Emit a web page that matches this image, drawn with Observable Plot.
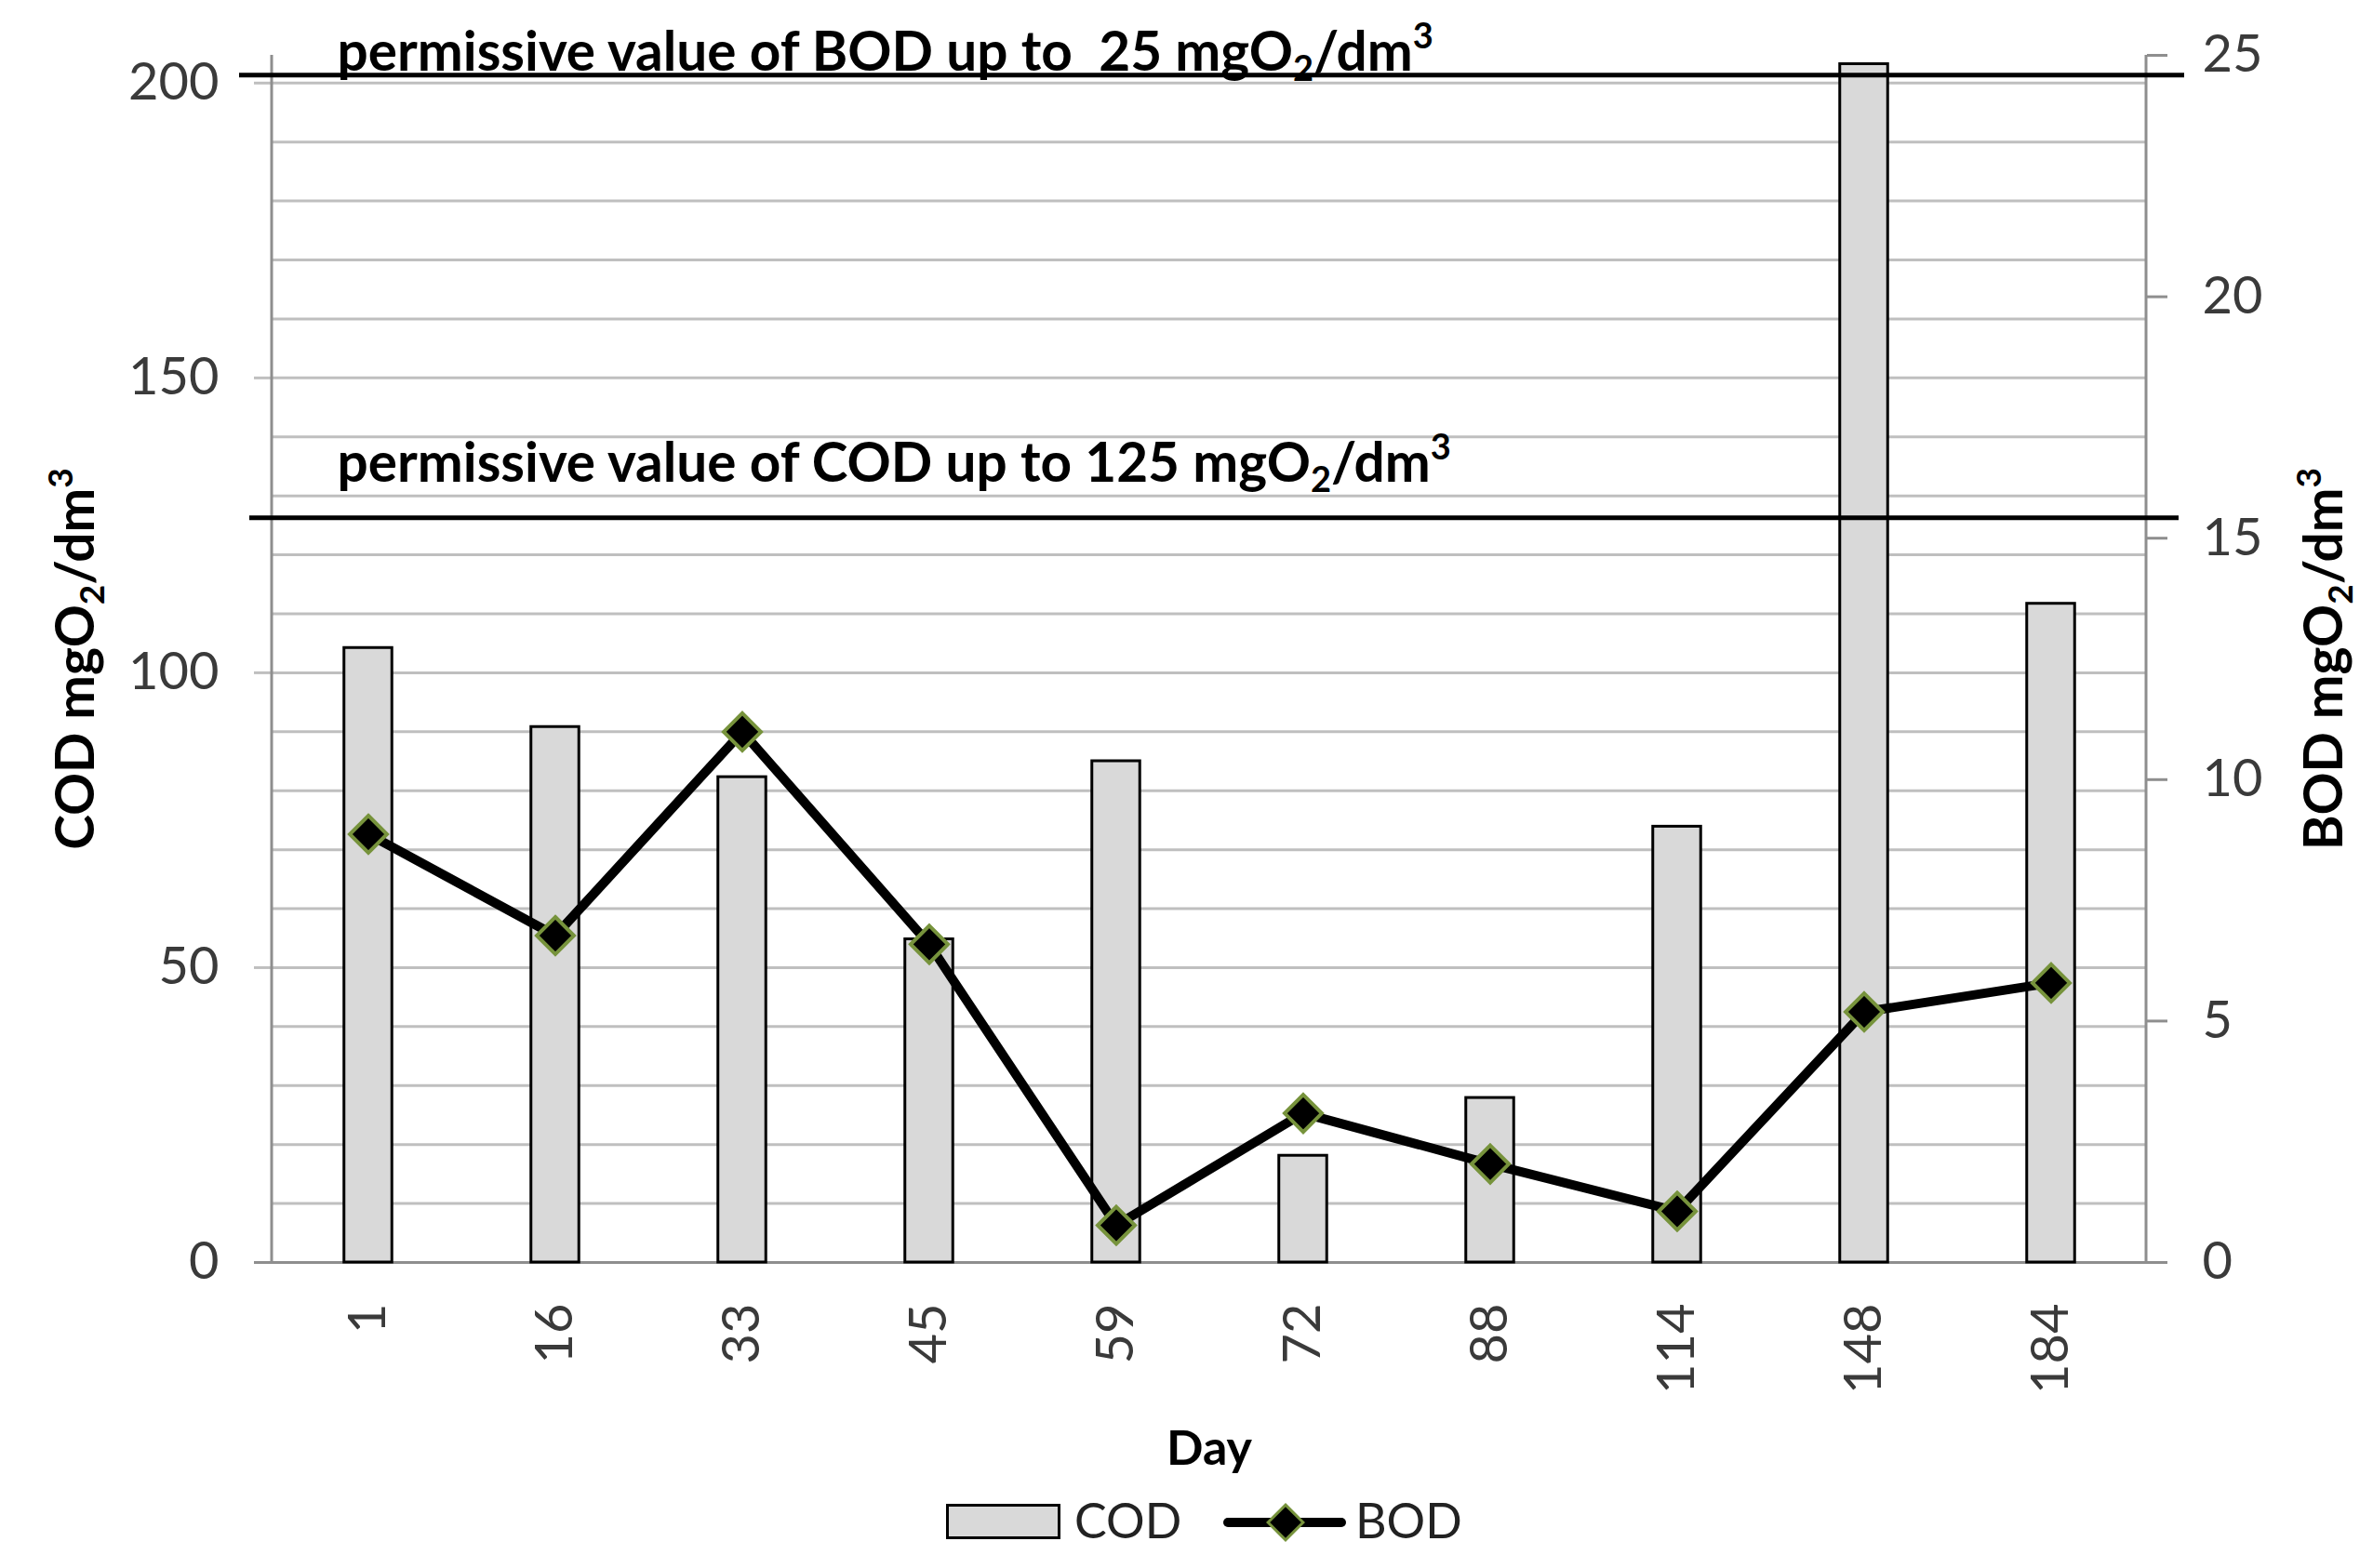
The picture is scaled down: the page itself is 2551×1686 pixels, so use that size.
<!DOCTYPE html>
<html>
<head>
<meta charset="utf-8">
<script src="https://cdn.jsdelivr.net/npm/d3@7"></script>
<script src="https://cdn.jsdelivr.net/npm/@observablehq/plot@0.6"></script>
<style>
  html, body { margin: 0; padding: 0; background: #ffffff; }
  #chart { width: 2551px; }
  #chart svg { display: block; }
  svg text { font-family: Lato, "Open Sans", sans-serif; }
</style>
</head>
<body>
<div id="chart"></div>
<script>
// ---- data ----
const days = ["1", "16", "33", "45", "59", "72", "88", "114", "148", "184"];
const cod = [104.2, 90.8, 82.3, 54.8, 85.0, 18.1, 27.9, 73.9, 203.2, 111.7];
const bod = [8.87, 6.77, 10.99, 6.59, 0.77, 3.09, 2.04, 1.06, 5.19, 5.79];

const codTicks = [0, 50, 100, 150, 200];
const codGrid = [10, 20, 30, 40, 50, 60, 70, 80, 90, 100, 110, 120, 130, 140, 150, 160, 170, 180, 190, 200];
const bodTicks = [0, 5, 10, 15, 20, 25];

const codMax = 204.7;   // left axis top
const bodMax = 25;      // right axis top
const codLimitLine = 126.3; // drawn position (COD scale)
const bodLimitLine = 24.59; // drawn position (BOD scale)
const codLimitLabel = "permissive value of COD up to 125 mgO2/dm3";
const bodLimitLabel = "permissive value of BOD up to  25 mgO2/dm3";
const seriesNames = ["COD", "BOD"];

const k = codMax / bodMax; // BOD -> COD scale factor
const data = days.map((d, i) => ({day: d, cod: cod[i], bod: bod[i], bodY: bod[i] * k}));

const axisGray = "#8e8e8e";
const gridGray = "#bfbfbf";
const textGray = "#3a3a3a";

const axisLines = (index, scales, values, dimensions) => {
  const {width, height, marginLeft, marginRight, marginTop, marginBottom} = dimensions;
  const g = d3.create("svg:g").attr("stroke", axisGray).attr("stroke-width", 3);
  g.append("line").attr("x1", marginLeft).attr("x2", marginLeft).attr("y1", marginTop).attr("y2", height - marginBottom);
  g.append("line").attr("x1", width - marginRight).attr("x2", width - marginRight).attr("y1", marginTop).attr("y2", height - marginBottom);
  return g.node();
};

const chart = Plot.plot({
  width: 2551,
  height: 1610,
  marginLeft: 292,
  marginRight: 244,
  marginTop: 59,
  marginBottom: 253,
  style: {background: "white", fontFamily: "Lato, 'Open Sans', sans-serif", overflow: "visible"},
  x: {type: "band", domain: days, padding: 0, label: null},
  y: {domain: [0, codMax], label: null},
  marks: [
    Plot.ruleY(codGrid, {stroke: gridGray, strokeWidth: 3}),
    Plot.axisY({anchor: "left", ticks: codTicks, tickSize: 19, tickPadding: 38, fontSize: 56, stroke: gridGray, strokeWidth: 3, fill: textGray, label: null}),
    Plot.axisY({anchor: "right", ticks: bodTicks.map(v => v * k), tickFormat: d => String(Math.round(d / k)), tickSize: 22, tickPadding: 38, fontSize: 56, stroke: axisGray, strokeWidth: 3, fill: textGray, label: null}),
    Plot.axisX({tickRotate: -90, tickSize: 0, tickPadding: 44, fontSize: 56, fill: textGray, label: null}),
    axisLines,
    Plot.ruleY([0], {stroke: axisGray, strokeWidth: 3, insetLeft: -19, insetRight: -22}),
    Plot.barY(data, {x: "day", y: "cod", fill: "#d9d9d9", stroke: "#000000", strokeWidth: 3, insetLeft: 74.75, insetRight: 74.75}),
    Plot.ruleY([bodLimitLine * k], {stroke: "#000000", strokeWidth: 5, insetLeft: -35, insetRight: -41}),
    Plot.ruleY([codLimitLine], {stroke: "#000000", strokeWidth: 5, insetLeft: -24, insetRight: -35}),
    Plot.line(data, {x: "day", y: "bodY", stroke: "#000000", strokeWidth: 10}),
    Plot.dot(data, {x: "day", y: "bodY", symbol: "diamond2", r: 18, fill: "#000000", stroke: "#77933c", strokeWidth: 4}),
    Plot.text([{t: bodLimitLabel, v: bodLimitLine * k}], {y: "v", text: "t", frameAnchor: "left", textAnchor: "start", lineAnchor: "bottom", dx: 70, dy: -5, fontSize: 58.5, fontWeight: "bold", fill: "#000000"}),
    Plot.text([{t: codLimitLabel, v: codLimitLine}], {y: "v", text: "t", frameAnchor: "left", textAnchor: "start", lineAnchor: "bottom", dx: 70, dy: -39, fontSize: 58.5, fontWeight: "bold", fill: "#000000"}),
    Plot.text(["COD mgO2/dm3"], {frameAnchor: "left", textAnchor: "middle", rotate: -90, dx: -210, fontSize: 57, fontWeight: "bold", fill: "#000000"}),
    Plot.text(["BOD mgO2/dm3"], {frameAnchor: "right", textAnchor: "middle", rotate: -90, dx: 192, fontSize: 57, fontWeight: "bold", fill: "#000000"}),
    Plot.text(["Day"], {frameAnchor: "bottom", dy: 217, fontSize: 52, fontWeight: "bold", fill: "#000000"})
  ]
});

const holder = document.getElementById("chart");
holder.appendChild(chart);

// ---- legend (below the plot SVG) ----
const legend = d3.create("svg").attr("width", 2551).attr("height", 66).style("display", "block");
legend.append("rect").attr("x", 1018.5).attr("y", 8.5).attr("width", 120).attr("height", 35)
  .attr("fill", "#d9d9d9").attr("stroke", "#000000").attr("stroke-width", 3);
legend.append("text").attr("x", 1155).attr("y", 44).attr("font-size", 52).attr("fill", "#222").text(seriesNames[0]);
legend.append("line").attr("x1", 1320).attr("x2", 1442).attr("y1", 27).attr("y2", 27)
  .attr("stroke", "#000000").attr("stroke-width", 10).attr("stroke-linecap", "round");
legend.append("path").attr("d", d3.symbol(d3.symbolDiamond2, Math.PI * 17 * 17)()).attr("transform", "translate(1382,27)")
  .attr("fill", "#000000").attr("stroke", "#77933c").attr("stroke-width", 3);
legend.append("text").attr("x", 1457).attr("y", 44).attr("font-size", 52).attr("fill", "#222").text(seriesNames[1]);
holder.appendChild(legend.node());

// ---- subscript / superscript for mgO2/dm3 ----
function richify(el) {
  const s = el.textContent;
  const m = s.match(/^(.*mgO)2(\/dm)3$/);
  if (!m) return;
  const F = parseFloat(getComputedStyle(el).fontSize) || 56;
  while (el.firstChild) el.removeChild(el.firstChild);
  const ns = "http://www.w3.org/2000/svg";
  const add = (txt, size, dy) => {
    const t = document.createElementNS(ns, "tspan");
    t.textContent = txt;
    if (size) t.setAttribute("font-size", size);
    if (dy) t.setAttribute("dy", dy);
    el.appendChild(t);
  };
  add(m[1], null, null);
  add("2", F * 0.65, F * 0.2);
  add(m[2], null, -F * 0.2);
  add("3", F * 0.65, -F * 0.4);
}
holder.querySelectorAll("text").forEach(richify);
</script>
</body>
</html>
